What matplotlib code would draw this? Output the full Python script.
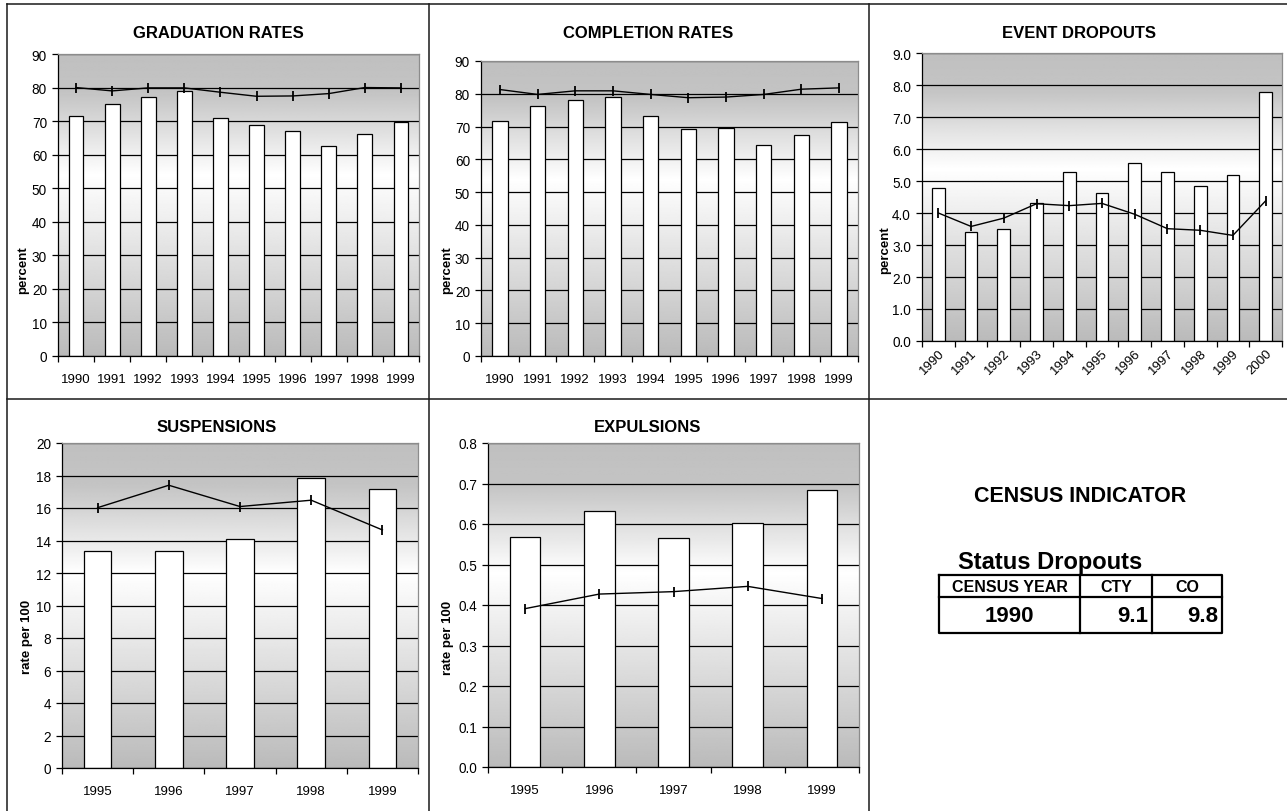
import numpy as np
import matplotlib
matplotlib.use("Agg")
import matplotlib.pyplot as plt
import matplotlib.ticker as ticker

plt.rcParams["font.family"] = ["Liberation Sans", "DejaVu Sans"]

W, H = 1287, 812

# ---- data ----
years_90s = ["1990", "1991", "1992", "1993", "1994", "1995", "1996", "1997", "1998", "1999"]
years_event = ["1990", "1991", "1992", "1993", "1994", "1995", "1996", "1997", "1998", "1999", "2000"]
years_95 = ["1995", "1996", "1997", "1998", "1999"]

grad_bars = [71.6, 75.1, 77.3, 79.1, 71.0, 68.8, 67.1, 62.5, 66.3, 69.8]
grad_line = [80.0, 79.0, 79.9, 79.9, 78.6, 77.4, 77.5, 78.2, 80.0, 79.9]

comp_bars = [71.7, 76.2, 78.2, 79.1, 73.3, 69.4, 69.7, 64.3, 67.4, 71.3]
comp_line = [81.3, 79.8, 80.9, 80.9, 79.8, 78.8, 79.0, 79.8, 81.4, 81.8]

event_bars = [4.77, 3.42, 3.50, 4.30, 5.29, 4.64, 5.55, 5.27, 4.83, 5.18, 7.78]
event_line = [4.00, 3.58, 3.84, 4.29, 4.23, 4.30, 3.96, 3.51, 3.46, 3.30, 4.38]

susp_bars = [13.34, 13.34, 14.08, 17.85, 17.15]
susp_line = [16.02, 17.40, 16.09, 16.48, 14.65]

expul_bars = [0.569, 0.631, 0.565, 0.602, 0.683]
expul_line = [0.391, 0.427, 0.433, 0.446, 0.416]

census_header = ["CENSUS YEAR", "CTY", "CO"]
census_row = ["1990", "9.1", "9.8"]

fig = plt.figure(figsize=(W / 100, H / 100), dpi=100)

# full-figure pixel canvas for frame lines, labels and the table
bg = fig.add_axes([0, 0, 1, 1], zorder=-1)
bg.set_xlim(0, W)
bg.set_ylim(H, 0)
bg.axis("off")

frame = dict(color="#1a1a1a", lw=1.1)
bg.plot([7, 7], [5, 812], **frame)
bg.plot([7, W], [5, 5], **frame)
bg.plot([429, 429], [5, 812], **frame)
bg.plot([869, 869], [5, 812], **frame)
bg.plot([7, W], [400, 400], **frame)

gradient = np.interp(np.linspace(0, 1, 300), [0, 0.6, 0.87, 1.0],
                     [0.73, 1.0, 0.77, 0.75]).reshape(-1, 1)


def px_axes(l, t, r, b):
    return fig.add_axes([l / W, 1 - b / H, (r - l) / W, (b - t) / H])


def panel(box, cats, bars, line, ymax, ystep, fmt, width, rotate=False):
    ax = px_axes(*box)
    n = len(cats)
    x = np.arange(n)
    ax.imshow(gradient, cmap="gray", vmin=0, vmax=1, aspect="auto",
              origin="lower", extent=[-0.5, n - 0.5, 0, ymax], zorder=0,
              interpolation="bilinear")
    ax.bar(x, bars, width, color="white", edgecolor="black", lw=0.9, zorder=2)
    ax.plot(x, line, color="black", lw=1.0, marker="|", ms=7, mew=1.3, zorder=3)
    ax.set_xlim(-0.5, n - 0.5)
    ax.set_ylim(0, ymax)
    ax.set_axisbelow(True)

    ax.yaxis.set_major_locator(ticker.MultipleLocator(ystep))
    ax.yaxis.set_major_formatter(ticker.FormatStrFormatter(fmt))
    ax.yaxis.grid(True, color="black", lw=0.9)
    ax.tick_params(axis="y", direction="out", length=4, width=0.9,
                   labelsize=9.8, pad=4, color="black")

    ax.set_xticks(np.arange(n + 1) - 0.5)
    ax.set_xticklabels([])
    ax.set_xticks(x, minor=True)
    if rotate:
        ax.set_xticklabels(cats, minor=True, rotation=45, ha="right",
                           va="top", rotation_mode="anchor")
        ax.tick_params(axis="x", which="minor", length=0, labelsize=9.5, pad=4)
    else:
        ax.set_xticklabels(cats, minor=True)
        ax.tick_params(axis="x", which="minor", length=0, labelsize=9.5, pad=12)
    ax.tick_params(axis="x", which="major", direction="out", length=4, width=0.9)

    ax.spines["left"].set_color("black")
    ax.spines["bottom"].set_color("black")
    ax.spines["top"].set_color("#8c8c8c")
    ax.spines["right"].set_color("#8c8c8c")
    for s in ax.spines.values():
        s.set_linewidth(0.9)
        s.set_zorder(4)
    return ax


panel((58, 55, 419, 357), years_90s, grad_bars, grad_line, 90, 10, "%d", 0.41)
panel((481, 62, 858, 357), years_90s, comp_bars, comp_line, 90, 10, "%d", 0.41)
panel((922, 54, 1282, 342), years_event, event_bars, event_line, 9, 1, "%.1f", 0.39,
      rotate=True)
panel((62, 444, 418, 769), years_95, susp_bars, susp_line, 20, 2, "%d", 0.39)
panel((488, 444, 859, 768), years_95, expul_bars, expul_line, 0.8, 0.1, "%.1f", 0.41)

title_kw = dict(fontsize=12, fontweight="bold", ha="center", va="center")
bg.text(218, 33, "GRADUATION RATES", **title_kw)
bg.text(648, 33, "COMPLETION RATES", **title_kw)
bg.text(1079, 33, "EVENT DROPOUTS", **title_kw)
bg.text(217, 428, "SUSPENSIONS", **title_kw)
bg.text(648, 428, "EXPULSIONS", **title_kw)

ylab_kw = dict(fontsize=9.5, fontweight="bold", ha="center", va="center", rotation=90)
bg.text(23, 270, "percent", **ylab_kw)
bg.text(447, 270, "percent", **ylab_kw)
bg.text(885, 250, "percent", **ylab_kw)
bg.text(27, 637, "rate per 100", **ylab_kw)
bg.text(448, 638, "rate per 100", **ylab_kw)

# ---- census indicator table ----
bg.text(1080, 497, "CENSUS INDICATOR", fontsize=15.5, fontweight="bold",
        ha="center", va="center")
bg.text(1050, 563, "Status Dropouts", fontsize=17, fontweight="bold",
        ha="center", va="center")

tl, tr, tt, tm, tb = 939, 1222, 576, 598, 634
cols = [tl, 1080, 1152, tr]
tbl = dict(color="black", lw=1.6)
bg.plot([tl, tr, tr, tl, tl], [tt, tt, tb, tb, tt], **tbl)
bg.plot([tl, tr], [tm, tm], **tbl)
for cx in cols[1:-1]:
    bg.plot([cx, cx], [tt, tb], **tbl)

for i, h in enumerate(census_header):
    bg.text((cols[i] + cols[i + 1]) / 2, (tt + tm) / 2 + 1, h, fontsize=11.5,
            fontweight="bold", ha="center", va="center")
bg.text((cols[0] + cols[1]) / 2, (tm + tb) / 2 + 1, census_row[0], fontsize=16,
        fontweight="bold", ha="center", va="center")
for i in (1, 2):
    bg.text(cols[i + 1] - 4, (tm + tb) / 2 + 1, census_row[i], fontsize=16,
            fontweight="bold", ha="right", va="center")

fig.savefig("out.png", dpi=100)
